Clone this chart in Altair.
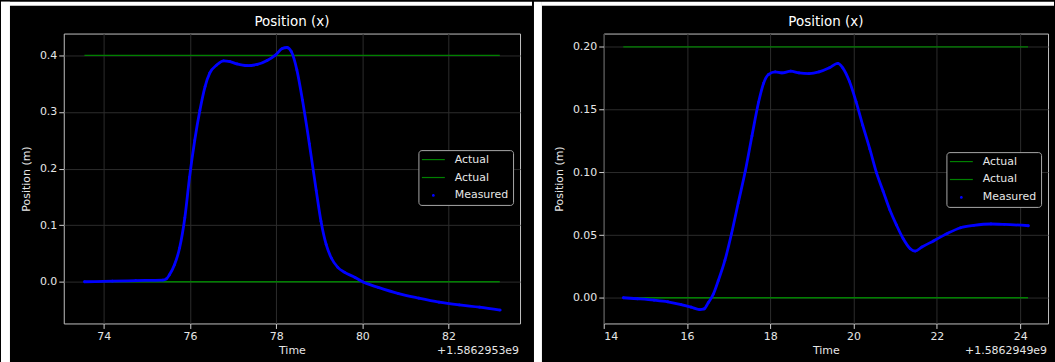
import altair as alt
import pandas as pd

# ---------------- data (time offsets in seconds, position in m) ----------------
SERIES = ["Actual", "Actual ", "Measured"]
GREEN = "#008000"
BLUE = "#0000ff"

# left run, offset +1.5862953e9
left_t = [73.55, 74.2, 74.74, 75.37, 75.45, 75.52, 75.64, 75.76, 75.88, 75.99,
          76.11, 76.23, 76.35, 76.46, 76.62, 76.78, 76.93, 77.09, 77.32, 77.56,
          77.79, 77.99, 78.14, 78.25, 78.35, 78.48, 78.61, 78.77, 78.93, 79.04,
          79.16, 79.28, 79.43, 79.59, 79.83, 80.02, 80.37, 80.84, 81.31, 81.78,
          82.25, 82.72, 83.2]
left_pos = [0.0, 0.001, 0.002, 0.003, 0.005, 0.012, 0.030, 0.060, 0.113, 0.185,
            0.25, 0.303, 0.345, 0.369, 0.383, 0.3905, 0.389, 0.385, 0.382, 0.384,
            0.391, 0.401, 0.412, 0.414, 0.407, 0.3745, 0.321, 0.244, 0.161, 0.107,
            0.066, 0.042, 0.0255, 0.0166, 0.0077, -0.0006, -0.010, -0.021, -0.029, -0.036,
            -0.041, -0.045, -0.050]
left_actual_t = [73.55, 83.19]
left_actual_levels = [0.0, 0.4]
left_offset = "+1.5862953e9"

# right run, offset +1.5862949e9
right_t = [14.47, 14.81, 15.21, 15.54, 15.86, 16.10, 16.30, 16.41, 16.51, 16.63,
           16.75, 16.91, 17.07, 17.23, 17.40, 17.56, 17.72, 17.84, 17.96, 18.12,
           18.28, 18.49, 18.69, 18.93, 19.17, 19.42, 19.62, 19.74, 19.90, 20.06,
           20.22, 20.39, 20.55, 20.71, 20.87, 21.03, 21.19, 21.36, 21.48, 21.64,
           21.92, 22.25, 22.57, 22.89, 23.30, 23.62, 24.20]
right_pos = [0.0, -0.0008, -0.0019, -0.0032, -0.0054, -0.0075, -0.0094, -0.0089, -0.004, 0.0027,
             0.0135, 0.0297, 0.0512, 0.0755, 0.101, 0.129, 0.156, 0.171, 0.178, 0.180,
             0.1792, 0.1806, 0.1792, 0.1787, 0.180, 0.1833, 0.1868, 0.1833, 0.1725, 0.1563,
             0.1375, 0.1186, 0.0997, 0.0849, 0.0701, 0.058, 0.0472, 0.0391, 0.0372, 0.0404,
             0.0453, 0.0512, 0.0558, 0.0577, 0.0588, 0.0585, 0.0574]
right_actual_t = [14.47, 24.19]
right_actual_levels = [0.0, 0.2]
right_offset = "+1.5862949e9"

TITLE = "Position (x)"
FONT = "DejaVu Sans"
TXT = "#e6e6e6"

# legend symbol shapes (unit square coordinates): thin line for Actual, dot for Measured
LINE_PATH = "M-2.3,-0.12H2.3V0.12H-2.3Z"
DOT_PATH = "M-0.28,0A0.28,0.28 0 1,0 0.28,0A0.28,0.28 0 1,0 -0.28,0Z"


def one():
    return pd.DataFrame([{"k": 0}])


def strip(x1, x2, y1, y2):
    return alt.Chart(one()).mark_rect(color="white").encode(
        x=alt.value(x1), x2=alt.value(x2), y=alt.value(y1), y2=alt.value(y2))


def panel(t, pos, at, levels, xdom, xticks, ydom, yticks, yfmt, offset, w, h, lx, ly, strips):
    meas = pd.DataFrame({"t": t, "pos": pos, "series": "Measured"})
    rows = []
    for name, lvl in zip(SERIES[:2], levels):
        for tt in at:
            rows.append({"t": tt, "pos": lvl, "series": name})
    act = pd.DataFrame(rows)

    legend = alt.Legend(
        title=None, orient="none", legendX=lx, legendY=ly,
        symbolSize=100, symbolStrokeWidth=0, symbolOffset=5.5,
        labelFont=FONT, labelFontSize=11, labelColor=TXT, labelOffset=16,
        fillColor="black", strokeColor="#a8a8a8", cornerRadius=3,
        padding=4, rowPadding=6,
    )
    cscale = alt.Scale(domain=SERIES, range=[GREEN, GREEN, BLUE])
    sscale = alt.Scale(domain=SERIES, range=[LINE_PATH, LINE_PATH, DOT_PATH])
    x = alt.X("t:Q", scale=alt.Scale(domain=xdom, nice=False, zero=False),
              axis=alt.Axis(values=xticks, format="d", title="Time"))
    y = alt.Y("pos:Q", scale=alt.Scale(domain=ydom, nice=False, zero=False),
              axis=alt.Axis(values=yticks, format=yfmt, title="Position (m)"))

    act_layer = alt.Chart(act).mark_line(strokeWidth=1.3, color=GREEN).encode(
        x=x, y=y, detail="series:N")
    dots = alt.Chart(meas).mark_point(filled=True, size=100, opacity=1).encode(
        x=x, y=y,
        color=alt.Color("series:N", scale=cscale, legend=legend),
        shape=alt.Shape("series:N", scale=sscale, legend=legend))
    meas_layer = alt.Chart(meas).mark_line(strokeWidth=2.8, interpolate="monotone",
                                           color=BLUE).encode(x=x, y=y)
    title = alt.Chart(pd.DataFrame({"label": [TITLE]})).mark_text(
        font=FONT, fontSize=13.5, color="white", align="center", baseline="middle").encode(
        text="label:N", x=alt.value(w / 2), y=alt.value(-12))
    off = alt.Chart(pd.DataFrame({"label": [offset]})).mark_text(
        font=FONT, fontSize=11, color=TXT, align="right", baseline="middle").encode(
        text="label:N", x=alt.value(w - 1), y=alt.value(h + 28))
    layers = [strip(*s) for s in strips] + [act_layer, dots, meas_layer, title, off]
    return alt.layer(*layers).properties(width=w, height=h)


H = 291
left = panel(left_t, left_pos, left_actual_t, left_actual_levels,
             [73.07, 83.66], [74, 76, 78, 80, 82],
             [-0.0737, 0.4386], [0, 0.1, 0.2, 0.3, 0.4], ".1f", left_offset,
             458, H, 356, 117,
             [(-63, -54, -32, 330), (-63, 470, -32, -28)])
right = panel(right_t, right_pos, right_actual_t, right_actual_levels,
              [14.0, 24.67], [14, 16, 18, 20, 22, 24],
              [-0.0205, 0.2106], [0, 0.05, 0.1, 0.15, 0.2], ".2f", right_offset,
              446, H, 344, 119,
              [(-70, -62, -32, 330), (-62, 452, -32, -28)])

chart = alt.hconcat(left, right, spacing=0).resolve_scale(
    x="independent", y="independent", color="independent", shape="independent"
).resolve_legend(color="independent", shape="independent").properties(
    padding=0, background="black"
).configure_view(
    stroke="#c0c0c0", strokeWidth=1, fill="black"
).configure_axis(
    labelFont=FONT, labelFontSize=11, labelColor=TXT, labelPadding=2,
    titleFont=FONT, titleFontSize=11, titleFontWeight="normal", titleColor=TXT,
    tickColor="#d0d0d0", tickSize=5, tickWidth=1,
    grid=True, gridColor="#2c2c2c", gridWidth=1, domain=False,
).configure_axisY(titlePadding=8).configure_axisX(titlePadding=3)

chart.save("out.html", embed_options={"renderer": "svg", "actions": False})
